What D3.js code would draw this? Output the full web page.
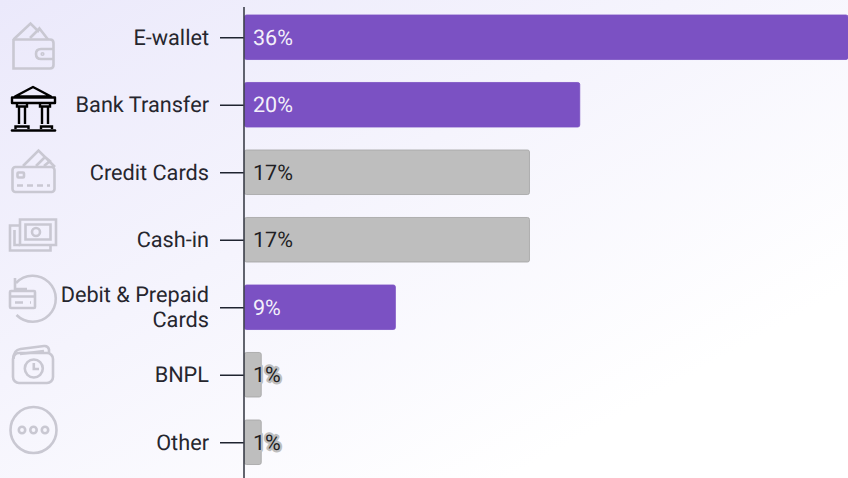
<!DOCTYPE html>
<html><head><meta charset="utf-8">
<script src="https://cdn.jsdelivr.net/npm/d3@7"></script>
<style>
html,body{margin:0;padding:0;background:#fff}
svg{display:block}
text{font-family:Roboto,sans-serif;text-rendering:geometricPrecision}
</style></head><body>
<svg id="c" width="848" height="478"></svg>
<script>
const categories=["E-wallet","Bank Transfer","Credit Cards","Cash-in","Debit & Prepaid|Cards","BNPL","Other"];
const values=[36,20,17,17,9,1,1];
const highlighted=[true,true,false,false,true,false,false];
const icons=["wallet","bank","card","cash","refund","clock","more"];

const svg=d3.select("#c");
const defs=svg.append("defs");
const g=defs.append("linearGradient").attr("id","bg").attr("gradientUnits","userSpaceOnUse")
 .attr("x1",0).attr("y1",0).attr("x2",327).attr("y2",581);
g.append("stop").attr("offset",0).attr("stop-color","#ebe9fb");
g.append("stop").attr("offset",1).attr("stop-color","#ffffff");
svg.append("rect").attr("width",848).attr("height",478).attr("fill","url(#bg)");

const x=d3.scaleLinear().domain([0,36]).range([244.5,848]);
const y=d3.scaleBand().domain(d3.range(categories.length)).range([3.500,476]).paddingInner(0.340).paddingOuter(0.170);

// bars
svg.append("g").selectAll("rect").data(values).join("rect")
 .attr("x",x(0)).attr("y",(d,i)=>y(i)).attr("width",d=>x(d)-x(0)).attr("height",y.bandwidth())
 .attr("rx",2)
 .attr("fill",(d,i)=>highlighted[i]?"#7b51c3":"#bebebe")
 .attr("stroke",(d,i)=>highlighted[i]?"#7b51c3":"#a3a3a3").attr("stroke-width",0.8);

// axis
const axis=d3.axisLeft(d3.scalePoint().domain(d3.range(categories.length)).range([y(0)+y.bandwidth()/2,y(6)+y.bandwidth()/2])).tickSize(24).tickFormat("");
const ax=svg.append("g").attr("transform","translate(244,0)").call(axis);
ax.select(".domain").remove();
ax.selectAll("line").attr("stroke","#1f2430").attr("stroke-width",1.500);
svg.append("line").attr("x1",244).attr("x2",244).attr("y1",7).attr("y2",478).attr("stroke","#3c3f4a").attr("stroke-width",1.600);

// category labels
const lab=svg.append("g").attr("opacity",0.995).selectAll("text").data(categories).join("text")
 .attr("text-anchor","end").attr("fill","#26262e").attr("font-size",21.700);
lab.each(function(d,i){
  const parts=d.split("|"), t=d3.select(this), cy=y(i)+y.bandwidth()/2;
  parts.forEach((p,k)=>t.append("tspan").attr("x",209)
    .attr("y",cy+7.500+(k-(parts.length-1)/2)*25).text(p));
});

// value labels
const vals=svg.append("g").attr("opacity",0.995).selectAll("text").data(values).join("text")
 .attr("x",x(0)+8.500).attr("y",(d,i)=>y(i)+y.bandwidth()/2+7.500)
 .attr("font-size",21.500).text(d=>d+"%")
 .attr("fill",(d,i)=>highlighted[i]?"#f4f0fb":"#1f1f24");
vals.filter(d=>d<3).attr("stroke","#bebebe").attr("stroke-width",4.500)
 .attr("stroke-linejoin","round").attr("paint-order","stroke");

// icons
const draw={
 wallet(s){
  s.append("path").attr("d","M13.500 39V68.500H50q3.500 0 3.500-3.500V43q0-3.500-3.500-3.500H13.500Z");
  s.append("path").attr("d","M13.500 39.500 30.500 23.500 38 31 39.500 28.500 48 39.500");
  s.append("path").attr("d","M30 38 39.500 28.500");
  s.append("path").attr("d","M53.500 49H41q-5 0-5 5t5 5H53.500");
  s.append("circle").attr("cx",42.500).attr("cy",54).attr("r",.8);
 },
 clock(s){
  s.append("rect").attr("x",13).attr("y",353).attr("width",40).attr("height",30).attr("rx",6);
  s.append("path").attr("d","M13.500 359q0-9 7-10L44 346q4-.5 5 3.500V353M20 354 44 351");
  s.append("circle").attr("cx",33.800).attr("cy",368.500).attr("r",9);
  s.append("path").attr("d","M33.800 363V369H39");
 },
 card(s){
  s.append("rect").attr("x",12.500).attr("y",167).attr("width",42).attr("height",25).attr("rx",3);
  s.append("path").attr("d","M23 166 38.500 150.500 55 167M36 166 45 157 51 162M44 166 50 161");
  s.append("rect").attr("x",17.500).attr("y",172.500).attr("width",6.500).attr("height",5).attr("rx",1);
  s.append("path").attr("d","M17 185.500H50").attr("stroke-dasharray","6 4");
 },
 cash(s){
  s.append("path").attr("d","M20 219.500H56V245H20Z");
  s.append("path").attr("d","M25.500 224.500H50.500V239.500H25.500Z");
  s.append("circle").attr("cx",36).attr("cy",232).attr("r",4);
  s.append("path").attr("d","M20 225.500H10V250.500H50.500V245");
  s.append("path").attr("d","M14.500 230V245H20");
 },
 refund(s){
  s.append("path").attr("d","M16 283A23 23 0 1 1 16.500 315");
  s.append("path").attr("d","M15 278V289H27");
  s.append("rect").attr("x",10).attr("y",291).attr("width",25).attr("height",17).attr("rx",1);
  s.append("path").attr("d","M10 296.500H35M15 302.500H23M30 302.500H31");
 },
 more(s){
  s.append("circle").attr("cx",33.500).attr("cy",430).attr("r",23);
  [22,33.500,45].forEach(cx=>s.append("circle").attr("cx",cx).attr("cy",430).attr("r",3.200));
 },
 bank(s){
  s.append("path").attr("d","M33 87 51 96.500H15Z").attr("stroke-linejoin","round");
  s.append("path").attr("d","M12 97.500H55V103H12Z").attr("stroke-linejoin","round");
  s.append("path").attr("d","M17 103V106.500H27V103M40 103V106.500H50V103");
  s.append("path").attr("d","M19 107V124M25 107V124M42 107V124M48 107V124");
  s.append("path").attr("d","M15.500 129V126.500H28.500V129M41 129V126.500H52V129");
  s.append("path").attr("d","M12 130.500H55").attr("stroke-width",2.600).attr("stroke-linecap","round");
 }
};
const ic=svg.append("g").selectAll("g").data(icons).join("g")
 .attr("fill","none")
 .attr("stroke",(d)=>d==="bank"?"#000":"#c9c8d2")
 .attr("stroke-width",d=>d==="bank"?2.400:2.600);
ic.each(function(d){draw[d](d3.select(this));});
</script>
</body></html>
